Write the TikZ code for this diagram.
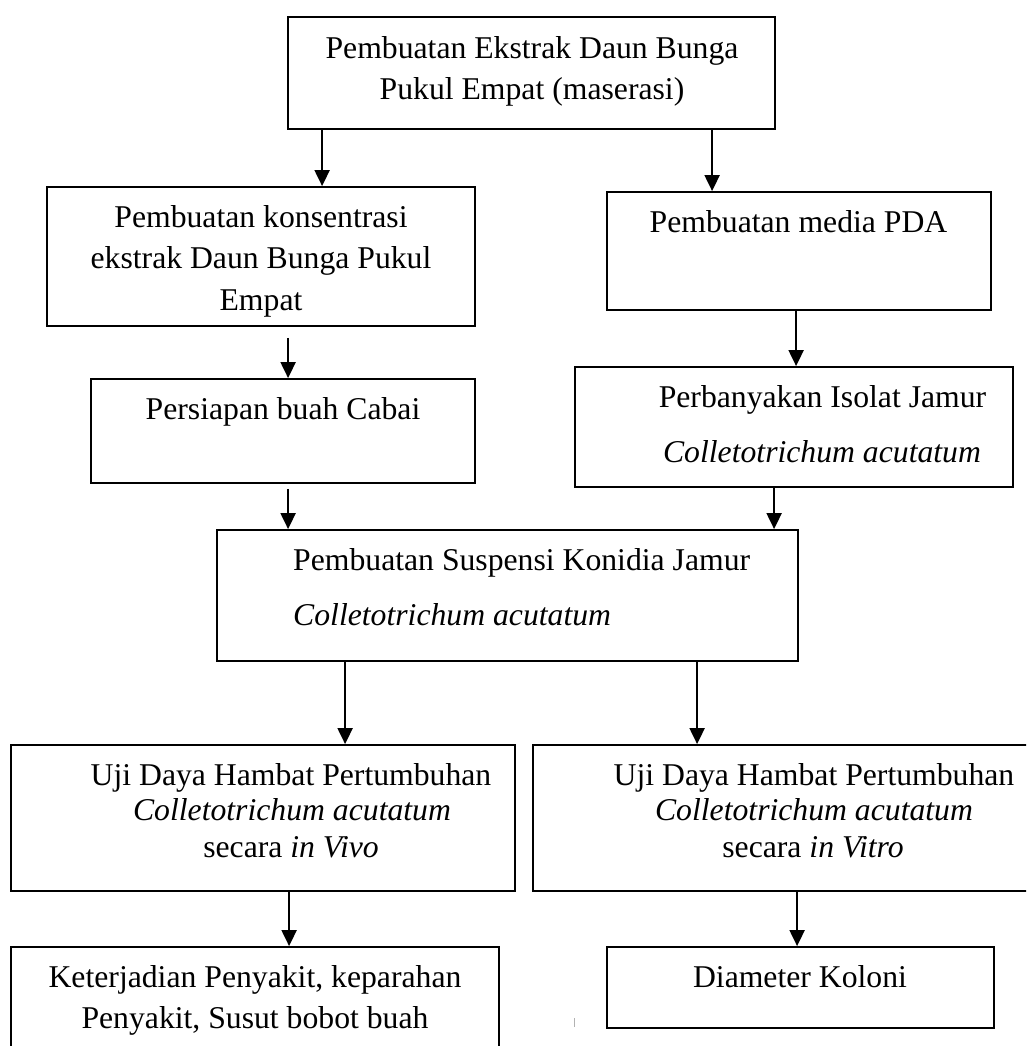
\documentclass[tikz,border=0pt]{standalone}
\usepackage{fontspec}
\setmainfont{Liberation Serif}
\usetikzlibrary{arrows.meta}
\tikzset{
    box/.style={draw, line width=1.8pt, inner sep=0pt},
    txt/.style={anchor=base, inner sep=0pt, font=\fontsize{31.7}{38}\selectfont},
    arr/.style={line width=2pt, -{Triangle[length=16pt,width=15pt]}},
}

\begin{document}
\begin{tikzpicture}[x=1pt,y=-1pt]
    \clip (0,0) rectangle (1026,1046);

    % kotak
    \node[box, minimum width=487pt, minimum height=112pt] (ekstrak) at (531.5,73) {};
    \node[box, minimum width=428pt, minimum height=139pt] (konsen) at (261,256.5) {};
    \node[box, minimum width=384pt, minimum height=118pt] (pda) at (799,251) {};
    \node[box, minimum width=384pt, minimum height=104pt] (cabai) at (283,431) {};
    \node[box, minimum width=438pt, minimum height=120pt] (isolat) at (794,427) {};
    \node[box, minimum width=581pt, minimum height=131pt] (suspensi) at (507.5,595.5) {};
    \node[box, minimum width=504pt, minimum height=146pt] (vivo) at (263,818) {};
    \node[box, minimum width=507pt, minimum height=146pt] (vitro) at (786.5,818) {};
    \node[box, minimum width=488pt, minimum height=118pt] (kejadian) at (255,1006) {};
    \node[box, minimum width=387pt, minimum height=81pt] (koloni) at (800.5,987.5) {};

    % teks
    \node[txt] (ekstrak1) at (532,59) {Pembuatan Ekstrak Daun Bunga};
    \node[txt] (ekstrak2) at (532,100) {Pukul Empat (maserasi)};
    \node[txt] (konsen1) at (261,227) {Pembuatan konsentrasi};
    \node[txt] (konsen2) at (261,268) {ekstrak Daun Bunga Pukul};
    \node[txt] (konsen3) at (261,310) {Empat};
    \node[txt] (pda1) at (798.5,232) {Pembuatan media PDA};
    \node[txt] (cabai1) at (283,419) {Persiapan buah Cabai};
    \node[txt] (isolat1) at (822.5,407) {Perbanyakan Isolat Jamur};
    \node[txt] (isolat2) at (822,462) {\itshape Colletotrichum acutatum};
    \node[txt, anchor=base west] (suspensi1) at (293,570) {Pembuatan Suspensi Konidia Jamur};
    \node[txt, anchor=base west] (suspensi2) at (293,625) {\itshape Colletotrichum acutatum};
    \node[txt] (vivo1) at (291,785) {Uji Daya Hambat Pertumbuhan};
    \node[txt] (vivo2) at (292,820) {\itshape Colletotrichum acutatum};
    \node[txt] (vivo3) at (291,857) {secara \textit{in Vivo}};
    \node[txt] (vitro1) at (814,785) {Uji Daya Hambat Pertumbuhan};
    \node[txt] (vitro2) at (814,820) {\itshape Colletotrichum acutatum};
    \node[txt] (vitro3) at (813,857) {secara \textit{in Vitro}};
    \node[txt] (kejadian1) at (255,987) {Keterjadian Penyakit, keparahan};
    \node[txt] (kejadian2) at (255,1028) {Penyakit, Susut bobot buah};
    \node[txt] (koloni1) at (800,987) {Diameter Koloni};

    % panah
    \draw[arr] ([xshift=35pt]ekstrak.south west) -- ([xshift=35pt]ekstrak.south west |- konsen.north);
    \draw[arr] ([xshift=425pt]ekstrak.south west) -- ([xshift=425pt]ekstrak.south west |- pda.north);
    \draw[arr] ([xshift=242pt,yshift=-11pt]konsen.south west) -- ([xshift=242pt]konsen.south west |- cabai.north);
    \draw[arr] ([xshift=190pt]pda.south west) -- ([xshift=190pt]pda.south west |- isolat.north);
    \draw[arr] ([xshift=198pt,yshift=-5pt]cabai.south west) -- ([xshift=198pt]cabai.south west |- suspensi.north);
    \draw[arr] ([xshift=200pt]isolat.south west) -- ([xshift=200pt]isolat.south west |- suspensi.north);
    \draw[arr] ([xshift=129pt]suspensi.south west) -- ([xshift=129pt]suspensi.south west |- vivo.north);
    \draw[arr] ([xshift=481pt]suspensi.south west) -- ([xshift=481pt]suspensi.south west |- vitro.north);
    \draw[arr] ([xshift=279pt]vivo.south west) -- ([xshift=279pt]vivo.south west |- kejadian.north);
    \draw[arr] ([xshift=265pt]vitro.south west) -- ([xshift=265pt]vitro.south west |- koloni.north);

    \draw[gray!60, line width=1pt] (574,1018) -- (574,1027);
\end{tikzpicture}
\end{document}
